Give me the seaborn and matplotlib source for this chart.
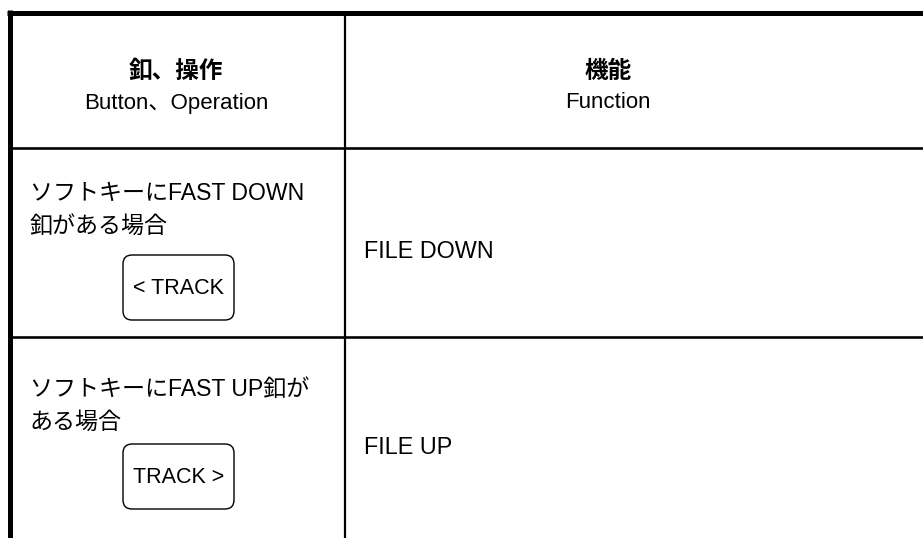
import matplotlib
matplotlib.use("Agg")
import matplotlib.pyplot as plt
from matplotlib.patches import FancyBboxPatch
import seaborn as sns

# table content
header_jp = ["釦、操作", "機能"]
header_en = ["Button、Operation", "Function"]
row_text = [["ソフトキーにFAST DOWN", "釦がある場合"],
            ["ソフトキーにFAST UP釦が", "ある場合"]]
row_button = ["< TRACK", "TRACK >"]
row_function = ["FILE DOWN", "FILE UP"]

sns.set_theme(style="white")
plt.rcParams['font.family'] = ['Liberation Sans', 'Noto Sans CJK JP', 'DejaVu Sans']
plt.rcParams['text.color'] = 'black'

W, H = 923, 538
fig = plt.figure(figsize=(W / 100, H / 100), dpi=100)
ax = fig.add_axes([0, 0, 1, 1])
ax.set_xlim(0, W)
ax.set_ylim(H, 0)
ax.axis("off")

px = 0.72  # pixels -> points

# borders / grid
ax.plot([7, W], [13, 13], color="black", lw=5 * px, solid_capstyle="butt")
ax.plot([9.5, 9.5], [10, H], color="black", lw=5 * px, solid_capstyle="butt")
ax.plot([345, 345], [13, H], color="black", lw=2.2 * px, solid_capstyle="butt")
for y in [147.5, 336.5]:
    ax.plot([10, W], [y, y], color="black", lw=2.6 * px, solid_capstyle="butt")

# header
col_x = [176, 608]
for cx, jp, en in zip(col_x, header_jp, header_en):
    ax.text(cx, 71, jp, ha="center", va="center", fontsize=17, fontweight="bold")
    ax.text(cx, 103, en, ha="center", va="center", fontsize=16)

# rows
row_top = [193, 389]
box_top = [255, 444]
func_y = [252, 448]
for i in range(len(row_text)):
    for j, line in enumerate(row_text[i]):
        ax.text(30, row_top[i] + 33 * j, line, ha="left", va="center", fontsize=16.6)
    bx0, bx1 = 123, 234
    by0, by1 = box_top[i], box_top[i] + 65
    box = FancyBboxPatch((bx0 + 9, by0 + 9), bx1 - bx0 - 18, by1 - by0 - 18,
                         boxstyle="round,pad=9,rounding_size=9",
                         fc="white", ec="black", lw=1.4 * px)
    ax.add_patch(box)
    ax.text((bx0 + bx1) / 2, (by0 + by1) / 2 + 1, row_button[i], ha="center", va="center",
            fontsize=15.5)
    ax.text(364, func_y[i], row_function[i], ha="left", va="center", fontsize=16.8)

fig.savefig("out.png", dpi=100, facecolor="white")
